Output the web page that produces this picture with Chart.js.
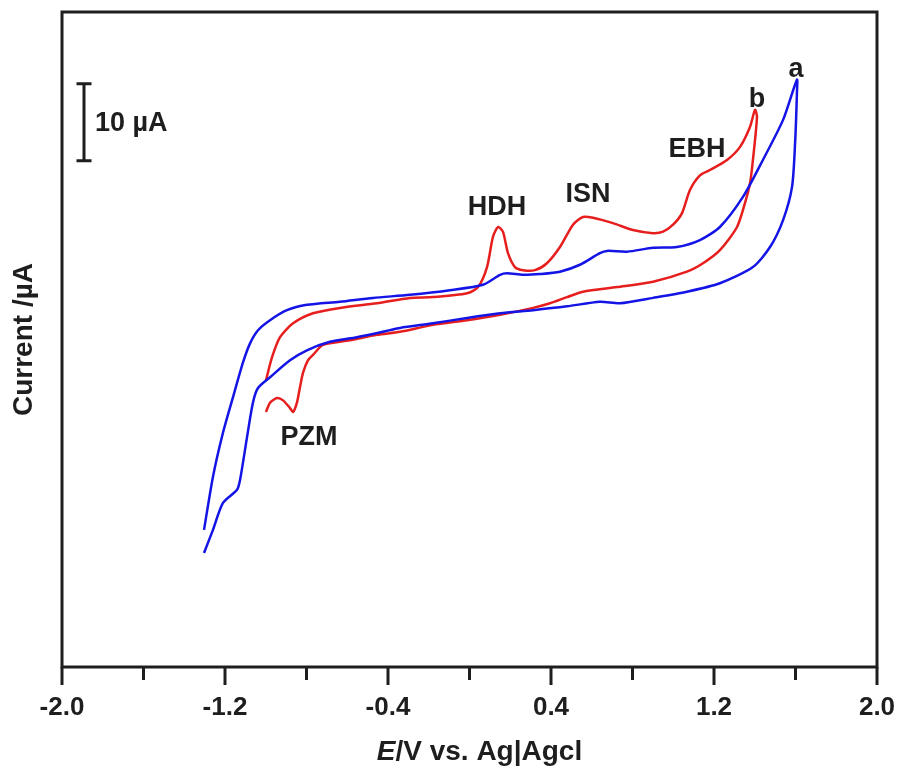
<!DOCTYPE html>
<html>
<head>
<meta charset="utf-8">
<script src="https://cdn.jsdelivr.net/npm/chart.js@4.4.1/dist/chart.umd.min.js"></script>
<style>
  html, body { margin: 0; padding: 0; background: #fff; }
  canvas { display: block; }
</style>
</head>
<body>
<canvas id="cv" width="901" height="771"></canvas>
<script>
// potential (V vs Ag|AgCl) and current (µA) for the two voltammograms
const potA = [-1.303,-1.259,-1.210,-1.161,-1.112,-1.077,-1.038,-0.979,-0.896,-0.798,-0.636,-0.474,-0.292,-0.096,0.066,0.150,0.184,0.263,0.346,0.444,0.542,0.640,0.675,0.773,0.901,1.018,1.131,1.229,1.342,1.440,1.539,1.607,
  1.607,1.598,1.583,1.539,1.475,1.391,1.229,1.067,0.901,0.739,0.640,0.479,0.312,0.150,-0.012,-0.179,-0.341,-0.425,-0.552,-0.685,-0.798,-0.881,-0.979,-1.038,-1.063,-1.092,-1.126,-1.141,-1.210,-1.259,-1.303];
const curA = [-27.2,-20.3,-14.6,-10.0,-5.5,-3.0,-1.3,0.0,1.3,2.0,2.4,2.9,3.3,3.9,4.6,5.9,6.1,5.9,6.0,6.3,7.2,8.7,9.0,8.9,9.4,9.5,10.4,12.1,16.0,20.8,26.0,31.2,
  29.5,23.0,17.3,13.0,9.5,6.9,4.8,3.7,2.9,2.2,2.4,1.8,1.3,0.9,0.3,-0.4,-1.0,-1.5,-2.2,-2.8,-3.9,-5.2,-7.4,-8.8,-10.7,-15.2,-20.7,-22.0,-23.7,-27.2,-30.2];

const potB = [-0.999,-0.969,-0.930,-0.866,-0.768,-0.636,-0.454,-0.292,-0.179,-0.012,0.042,0.086,0.115,0.140,0.164,0.189,0.223,0.263,0.321,0.380,0.444,0.508,0.557,0.606,0.704,0.802,0.901,0.950,0.999,1.043,1.082,1.131,1.180,1.264,1.328,1.377,1.401,
  1.411,1.391,1.377,1.352,1.313,1.229,1.146,1.067,0.901,0.724,0.557,0.479,0.395,0.312,0.150,-0.012,-0.179,-0.341,-0.454,-0.587,-0.719,-0.768,-0.793,-0.817,-0.832,-0.847,-0.866,-0.881,-0.915,-0.945,-0.979,-0.999];
const curB = [-7.8,-4.8,-2.2,-0.4,0.9,1.6,2.2,2.9,3.0,3.5,4.3,6.9,10.8,12.1,11.5,8.7,6.9,6.5,6.5,7.4,9.5,12.4,13.4,13.3,12.6,11.7,11.3,11.5,12.4,13.9,16.9,18.8,19.5,20.8,22.5,25.1,27.3,
  26.4,20.8,17.8,15.2,12.1,9.1,7.4,6.3,5.0,4.3,3.7,3.0,2.2,1.6,0.7,0.0,-0.6,-1.5,-1.9,-2.6,-3.2,-4.5,-5.2,-6.8,-8.7,-10.7,-11.9,-11.4,-10.4,-10.1,-10.7,-11.9];

// peak / curve labels: text, potential, current (baseline)
const labelText = ['a', 'b', 'EBH', 'ISN', 'HDH', 'PZM'];
const labelPot  = [1.602, 1.411, 1.117, 0.582, 0.135, -0.788];
const labelCur  = [31.6, 27.7, 21.2, 15.3, 13.7, -16.2];

// 10 µA scale bar
const barPot = -1.892;
const barTop = 30.7;
const barSpan = 10;

const xTicksMajor = ['-2.0', '-1.2', '-0.4', '0.4', '1.2', '2.0'];

const FONT = "'Liberation Sans', Arial, sans-serif";
const INK = '#1e1e1e';

function toPoints(xs, ys) {
  return xs.map((x, i) => ({ x: x, y: ys[i] }));
}

const decorations = {
  id: 'decorations',
  afterDraw(chart) {
    const ctx = chart.ctx;
    const area = chart.chartArea;
    const xs = chart.scales.x;
    const ys = chart.scales.y;
    ctx.save();

    // frame
    ctx.strokeStyle = INK;
    ctx.lineWidth = 3;
    ctx.strokeRect(area.left, area.top, area.right - area.left, area.bottom - area.top);

    // tick marks, long for labelled ones
    xs.ticks.forEach((t, i) => {
      const px = xs.getPixelForValue(t.value);
      const len = (i % 2 === 0) ? 18 : 13;
      ctx.beginPath();
      ctx.moveTo(px, area.bottom);
      ctx.lineTo(px, area.bottom + len);
      ctx.stroke();
    });

    // scale bar
    const bx = xs.getPixelForValue(barPot);
    const by1 = ys.getPixelForValue(barTop);
    const by2 = ys.getPixelForValue(barTop - barSpan);
    ctx.beginPath();
    ctx.moveTo(bx, by1); ctx.lineTo(bx, by2);
    ctx.moveTo(bx - 7.5, by1); ctx.lineTo(bx + 7.5, by1);
    ctx.moveTo(bx - 7.5, by2); ctx.lineTo(bx + 7.5, by2);
    ctx.stroke();
    ctx.fillStyle = INK;
    ctx.font = 'bold 27px ' + FONT;
    ctx.textAlign = 'left';
    ctx.textBaseline = 'alphabetic';
    ctx.fillText('10 \u00b5A', bx + 11, (by1 + by2) / 2 + 9);

    // curve and peak labels
    ctx.textAlign = 'center';
    labelText.forEach((txt, i) => {
      ctx.fillText(txt, xs.getPixelForValue(labelPot[i]), ys.getPixelForValue(labelCur[i]));
    });

    // x axis title, italic E
    const parts = [['italic bold 28px ' + FONT, 'E'], ['bold 28px ' + FONT, '/V vs. Ag|Agcl']];
    let total = 0;
    parts.forEach(p => { ctx.font = p[0]; total += ctx.measureText(p[1]).width; });
    let tx = (area.left + area.right) / 2 + 10 - total / 2;
    const ty = area.bottom + 93;
    ctx.textAlign = 'left';
    parts.forEach(p => {
      ctx.font = p[0];
      ctx.fillText(p[1], tx, ty);
      tx += ctx.measureText(p[1]).width;
    });

    ctx.restore();
  }
};

const config = {
  type: 'scatter',
  data: {
    datasets: [
      {
        label: 'a',
        data: toPoints(potA, curA),
        showLine: true,
        borderColor: '#1414e6',
        borderWidth: 2.5,
        pointRadius: 0,
        tension: 0.25
      },
      {
        label: 'b',
        data: toPoints(potB, curB),
        showLine: true,
        borderColor: '#e61e1e',
        borderWidth: 2.5,
        pointRadius: 0,
        tension: 0.25
      }
    ]
  },
  options: {
    responsive: false,
    animation: false,
    layout: { padding: { top: 12, right: 24, left: 0, bottom: 0 } },
    plugins: {
      legend: { display: false },
      tooltip: { enabled: false }
    },
    scales: {
      x: {
        type: 'linear',
        min: -2,
        max: 2,
        grid: { display: false, drawTicks: false },
        border: { display: false },
        ticks: {
          stepSize: 0.4,
          padding: 25,
          color: INK,
          font: { family: FONT, size: 26, weight: 'bold' },
          maxRotation: 0,
          autoSkip: false,
          callback: (v, i) => (i % 2 === 0 ? xTicksMajor[i / 2] : '')
        },
        afterFit: (scale) => {
          scale.height = 104;
          // end labels may overhang the frame
          scale.paddingLeft = 0;
          scale.paddingRight = 0;
        }
      },
      y: {
        type: 'linear',
        min: -45,
        max: 40,
        grid: { display: false, drawTicks: false },
        border: { display: false },
        ticks: { display: false },
        title: {
          display: true,
          text: 'Current /\u00b5A',
          color: INK,
          font: { family: FONT, size: 28, weight: 'bold' },
          padding: { top: 7, bottom: 0 }
        },
        afterFit: (scale) => { scale.width = 62; }
      }
    }
  },
  plugins: [decorations]
};

new Chart(document.getElementById('cv').getContext('2d'), config);
</script>
</body>
</html>
